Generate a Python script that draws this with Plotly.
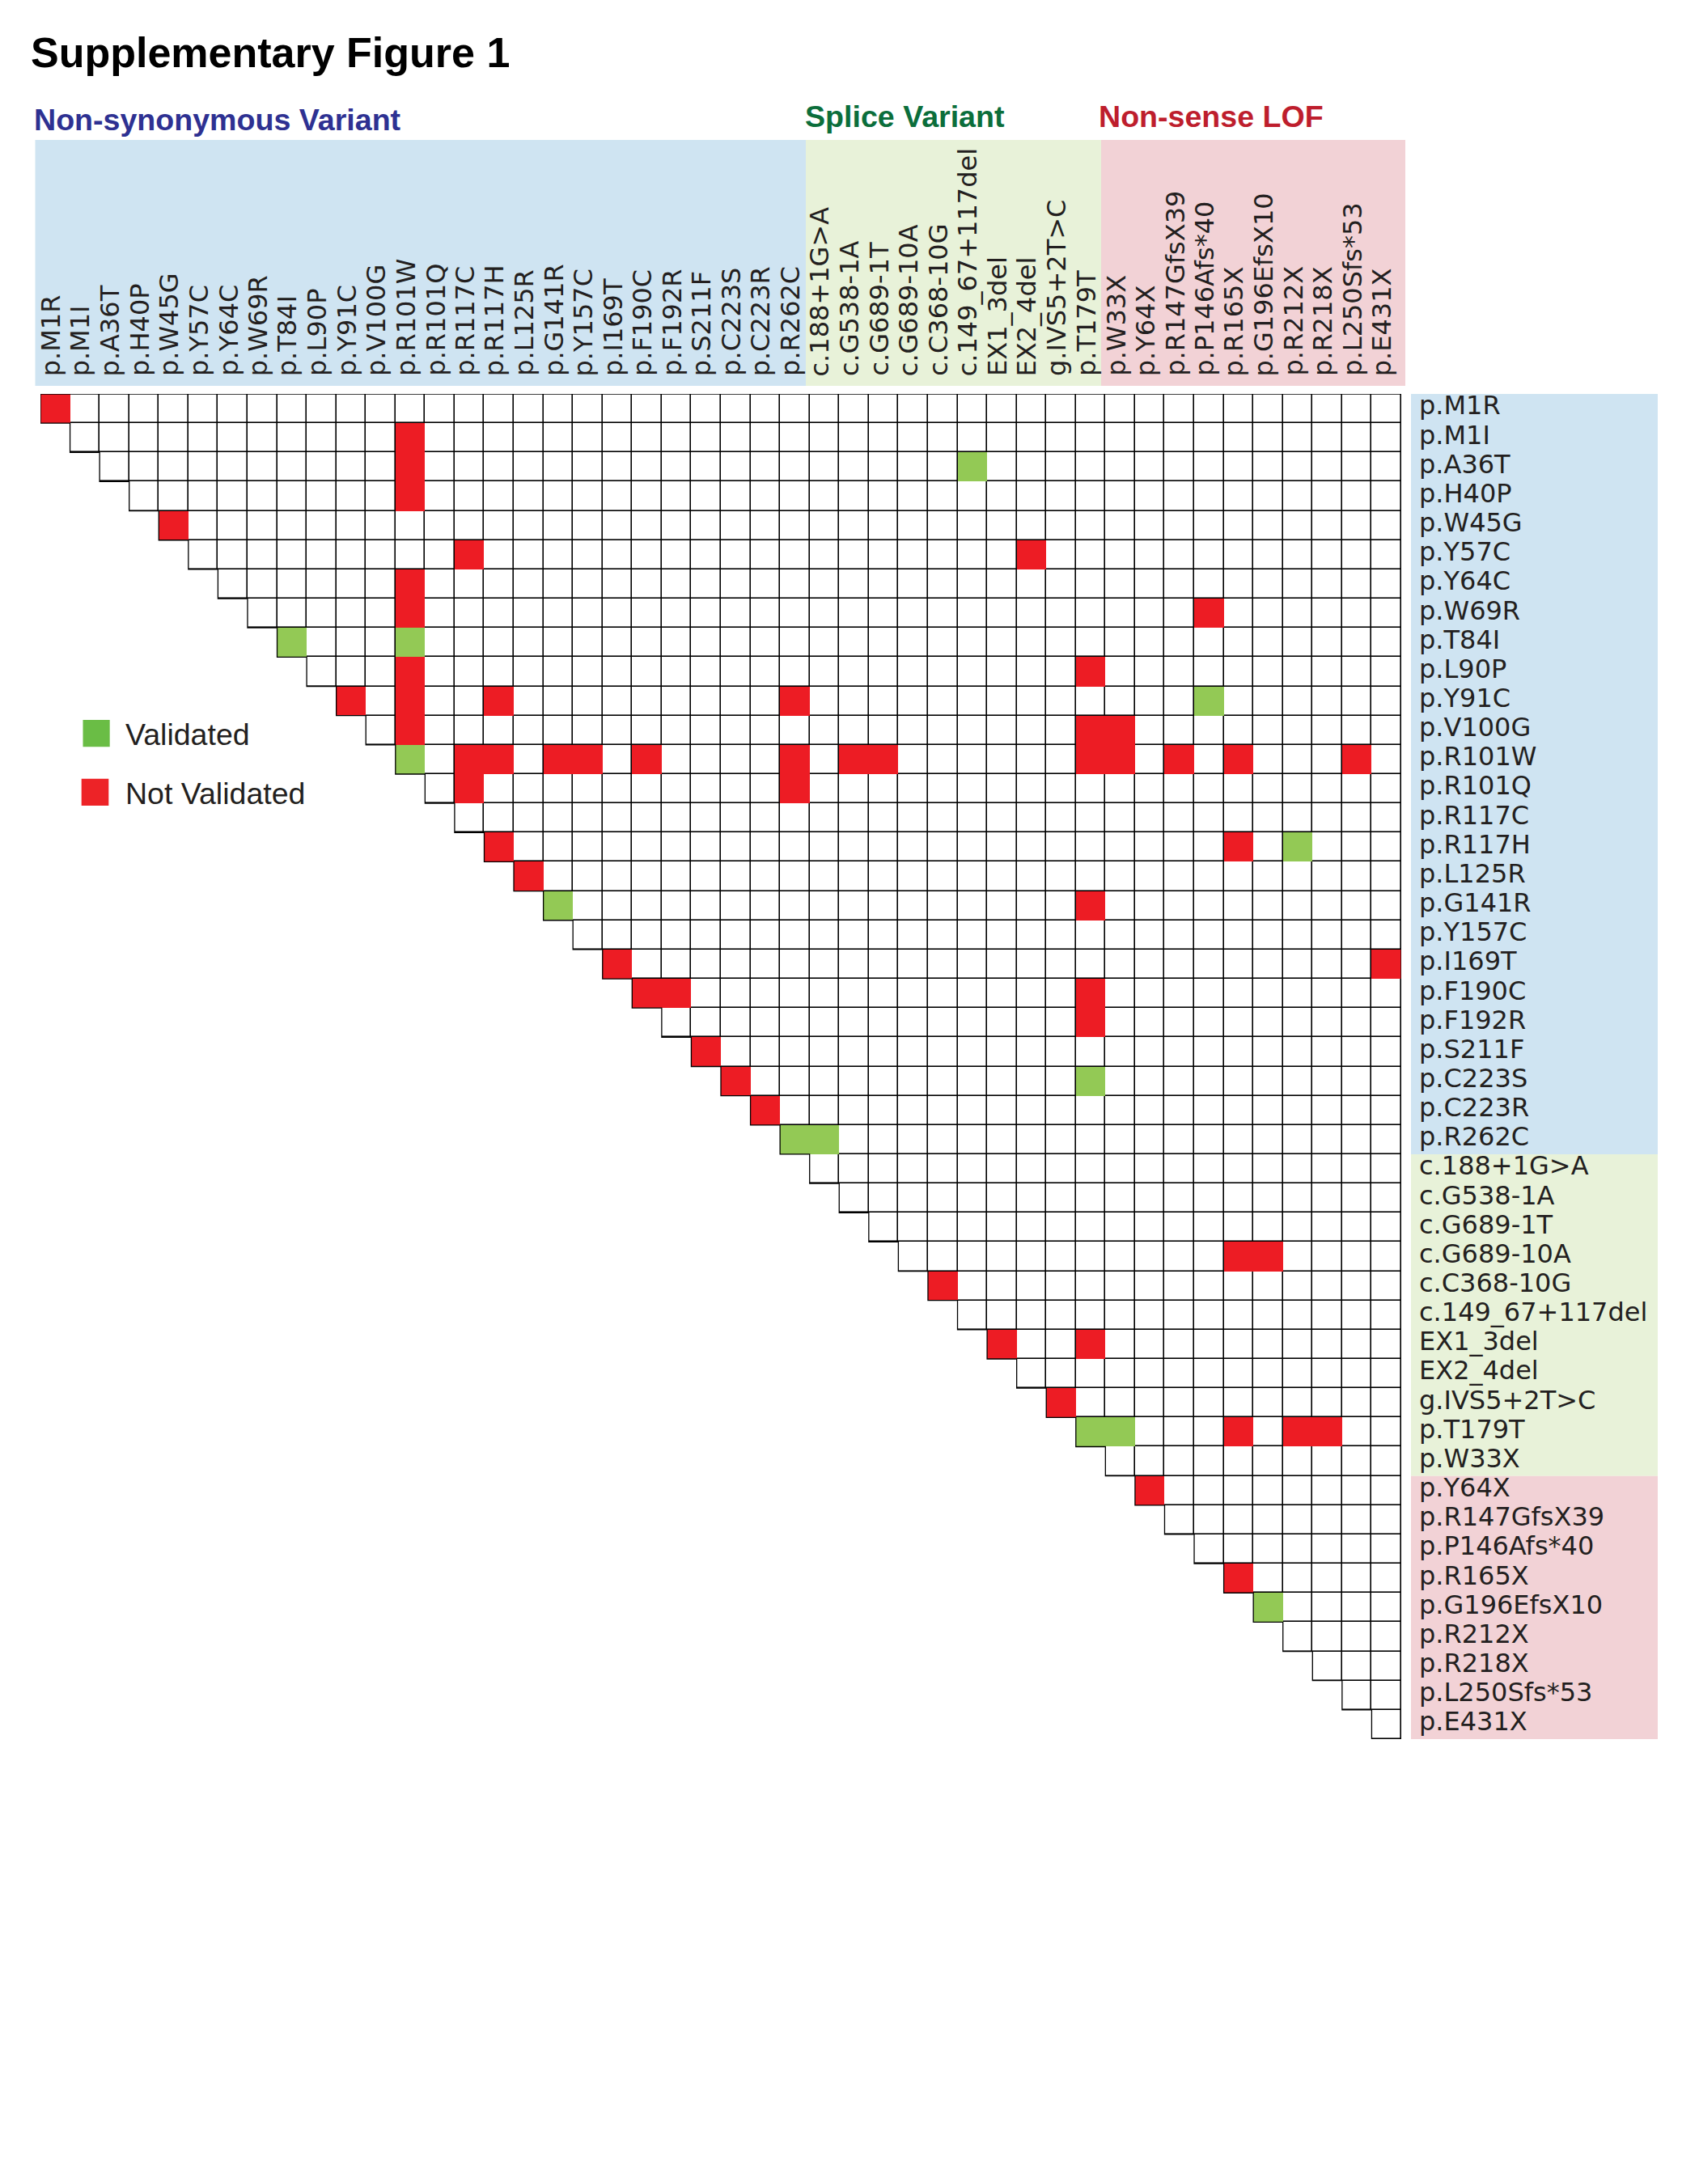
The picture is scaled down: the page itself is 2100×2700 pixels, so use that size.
import plotly.graph_objects as go

W, H = 2100, 2700

# ---------------- data ----------------
nonsyn_variants = ["p.M1R", "p.M1I", "p.A36T", "p.H40P", "p.W45G", "p.Y57C", "p.Y64C",
                   "p.W69R", "p.T84I", "p.L90P", "p.Y91C", "p.V100G", "p.R101W", "p.R101Q",
                   "p.R117C", "p.R117H", "p.L125R", "p.G141R", "p.Y157C", "p.I169T",
                   "p.F190C", "p.F192R", "p.S211F", "p.C223S", "p.C223R", "p.R262C"]
splice_variants = ["c.188+1G>A", "c.G538-1A", "c.G689-1T", "c.G689-10A", "c.C368-10G",
                   "c.149_67+117del", "EX1_3del", "EX2_4del", "g.IVS5+2T>C", "p.T179T"]
nonsense_variants = ["p.W33X", "p.Y64X", "p.R147GfsX39", "p.P146Afs*40", "p.R165X",
                     "p.G196EfsX10", "p.R212X", "p.R218X", "p.L250Sfs*53", "p.E431X"]
labels = nonsyn_variants + splice_variants + nonsense_variants

group_names = ["Non-synonymous Variant", "Splice Variant", "Non-sense LOF"]

# (row variant, column variant)
validated_pairs = [
    ("p.A36T", "c.149_67+117del"), ("p.T84I", "p.T84I"), ("p.T84I", "p.R101W"),
    ("p.Y91C", "p.P146Afs*40"), ("p.R101W", "p.R101W"), ("p.R117H", "p.R212X"),
    ("p.G141R", "p.G141R"), ("p.C223S", "p.T179T"), ("p.R262C", "p.R262C"),
    ("p.R262C", "c.188+1G>A"), ("p.T179T", "p.T179T"), ("p.T179T", "p.W33X"),
    ("p.G196EfsX10", "p.G196EfsX10"),
]
not_validated_pairs = [
    ("p.M1R", "p.M1R"), ("p.M1I", "p.R101W"), ("p.A36T", "p.R101W"), ("p.H40P", "p.R101W"),
    ("p.W45G", "p.W45G"), ("p.Y57C", "p.R117C"), ("p.Y57C", "EX2_4del"),
    ("p.Y64C", "p.R101W"), ("p.W69R", "p.R101W"), ("p.W69R", "p.P146Afs*40"),
    ("p.L90P", "p.R101W"), ("p.L90P", "p.T179T"),
    ("p.Y91C", "p.Y91C"), ("p.Y91C", "p.R101W"), ("p.Y91C", "p.R117H"), ("p.Y91C", "p.R262C"),
    ("p.V100G", "p.R101W"), ("p.V100G", "p.T179T"), ("p.V100G", "p.W33X"),
    ("p.R101W", "p.R117C"), ("p.R101W", "p.R117H"), ("p.R101W", "p.G141R"),
    ("p.R101W", "p.Y157C"), ("p.R101W", "p.F190C"), ("p.R101W", "p.R262C"),
    ("p.R101W", "c.G538-1A"), ("p.R101W", "c.G689-1T"), ("p.R101W", "p.T179T"),
    ("p.R101W", "p.W33X"), ("p.R101W", "p.R147GfsX39"), ("p.R101W", "p.R165X"),
    ("p.R101W", "p.L250Sfs*53"),
    ("p.R101Q", "p.R117C"), ("p.R101Q", "p.R262C"),
    ("p.R117H", "p.R117H"), ("p.R117H", "p.R165X"),
    ("p.L125R", "p.L125R"), ("p.G141R", "p.T179T"),
    ("p.I169T", "p.I169T"), ("p.I169T", "p.E431X"),
    ("p.F190C", "p.F190C"), ("p.F190C", "p.F192R"), ("p.F190C", "p.T179T"),
    ("p.F192R", "p.T179T"), ("p.S211F", "p.S211F"), ("p.C223S", "p.C223S"),
    ("p.C223R", "p.C223R"),
    ("c.G689-10A", "p.R165X"), ("c.G689-10A", "p.G196EfsX10"),
    ("c.C368-10G", "c.C368-10G"), ("EX1_3del", "EX1_3del"), ("EX1_3del", "p.T179T"),
    ("g.IVS5+2T>C", "g.IVS5+2T>C"),
    ("p.T179T", "p.R165X"), ("p.T179T", "p.R212X"), ("p.T179T", "p.R218X"),
    ("p.Y64X", "p.Y64X"), ("p.R165X", "p.R165X"),
]

legend_names = ["Validated", "Not Validated"]
# sizes of the coloured bands behind the row labels, as drawn in the figure
row_band_sizes = [26, 11, 9]

# ---------------- styles ----------------
BLUE_BG, GREEN_BG, PINK_BG = "#CFE4F2", "#E8F2D9", "#F2D2D6"
CELL_GREEN, CELL_RED = "#93C955", "#ED1C24"
LEG_GREEN, LEG_RED = "#6ABD45", "#ED2327"
TXT = "#231F20"
GROUP_COLORS = ["#2E3192", "#0B6E3B", "#BE1E2D"]
LABEL_FONT = dict(family="DejaVu Sans", size=32, color=TXT)


def px(x):
    return x / W


def py(y):
    return 1 - y / H


n = len(labels)
idx = {lab: i for i, lab in enumerate(labels)}
cols = list(range(n))
rows = list(range(n))

tri = [[1 if j >= i else None for j in cols] for i in rows]
status = [[None] * n for _ in rows]
for r, c in validated_pairs:
    status[idx[r]][idx[c]] = 1
for r, c in not_validated_pairs:
    status[idx[r]][idx[c]] = 2

fig = go.Figure()
# black base (becomes the grid lines)
fig.add_trace(go.Heatmap(z=tri, x=cols, y=rows, zmin=0, zmax=1,
                         colorscale=[[0, "#000000"], [1, "#000000"]],
                         showscale=False, hoverinfo="skip"))
# white cells with gaps
fig.add_trace(go.Heatmap(z=tri, x=cols, y=rows, zmin=0, zmax=1, xgap=1.6, ygap=1.6,
                         colorscale=[[0, "#FFFFFF"], [1, "#FFFFFF"]],
                         showscale=False, hoverinfo="skip"))
# validation status
fig.add_trace(go.Heatmap(z=status, x=cols, y=rows, zmin=1, zmax=2,
                         colorscale=[[0, CELL_GREEN], [0.5, CELL_GREEN],
                                     [0.5, CELL_RED], [1, CELL_RED]],
                         showscale=False, hoverinfo="skip"))

# staircase outline of the triangle
ox, oy = [-0.5], [-0.5]
for i in rows:
    ox += [i - 0.5, i + 0.5]
    oy += [i + 0.5, i + 0.5]
ox += [n - 0.5, -0.5]
oy += [-0.5, -0.5]
fig.add_trace(go.Scatter(x=ox, y=oy, mode="lines", line=dict(color="#000000", width=1.3),
                         hoverinfo="skip", showlegend=False))

shapes = []
# header bands (column groups)
head_edges = [43.5, 996, 1361, 1737]
for k, colr in enumerate([BLUE_BG, GREEN_BG, PINK_BG]):
    shapes.append(dict(type="rect", xref="paper", yref="paper",
                       x0=px(head_edges[k]), x1=px(head_edges[k + 1]),
                       y0=py(477), y1=py(173), fillcolor=colr, line=dict(width=0),
                       layer="below"))
# row label bands
start = 0
for k, (size, colr) in enumerate(zip(row_band_sizes, [BLUE_BG, GREEN_BG, PINK_BG])):
    y0 = start - 0.5 - (0.2 if k == 0 else 0)
    y1 = start + size - 0.5 + (0.2 if k == len(row_band_sizes) - 1 else 0)
    shapes.append(dict(type="rect", xref="paper", yref="y",
                       x0=px(1744), x1=px(2049), y0=y0, y1=y1,
                       fillcolor=colr, line=dict(width=0), layer="below"))
    start += size

# legend squares
shapes.append(dict(type="rect", xref="paper", yref="paper", x0=px(102.5), x1=px(135.7),
                   y0=py(923.3), y1=py(890), fillcolor=LEG_GREEN, line=dict(width=0)))
shapes.append(dict(type="rect", xref="paper", yref="paper", x0=px(100.7), x1=px(134.3),
                   y0=py(996), y1=py(962.7), fillcolor=LEG_RED, line=dict(width=0)))

ann = []
ann.append(dict(x=px(36), y=py(65), xref="paper", yref="paper", xanchor="left",
                yanchor="middle", showarrow=False, text="Supplementary Figure 1",
                font=dict(family="Liberation Sans", size=52, color="#000000", weight=700)))
group_pos = [(40, 148), (993, 143.5), (1356, 144)]
for name, (gx, gy), colr in zip(group_names, group_pos, GROUP_COLORS):
    ann.append(dict(x=px(gx), y=py(gy), xref="paper", yref="paper", xanchor="left",
                    yanchor="middle", showarrow=False, text=name,
                    font=dict(family="Liberation Sans", size=37.6, color=colr, weight=700)))

col_shift = -0.15
for j, lab in enumerate(labels):
    ann.append(dict(x=j + col_shift, xref="x", y=py(467), yref="paper", text=lab,
                    textangle=-90, xanchor="center", yanchor="bottom", showarrow=False,
                    font=LABEL_FONT))
row_shift = -0.1
for i, lab in enumerate(labels):
    ann.append(dict(x=px(1752), xref="paper", y=i + row_shift, yref="y", text=lab,
                    xanchor="left", yanchor="middle", showarrow=False, font=LABEL_FONT))

for name, ly in zip(legend_names, [908, 981]):
    ann.append(dict(x=px(153), y=py(ly), xref="paper", yref="paper", xanchor="left",
                    yanchor="middle", showarrow=False, text=name,
                    font=dict(family="Liberation Sans", size=37.5, color=TXT)))

fig.update_layout(
    width=W, height=H,
    margin=dict(l=0, r=0, t=0, b=0),
    paper_bgcolor="#FFFFFF", plot_bgcolor="rgba(0,0,0,0)",
    showlegend=False,
    xaxis=dict(domain=[px(50), px(1732)], range=[-0.5, n - 0.5], visible=False,
               fixedrange=True),
    yaxis=dict(domain=[py(2150), py(487)], range=[n - 0.5, -0.5], visible=False,
               fixedrange=True),
    shapes=shapes,
    annotations=ann,
)

fig.write_html("out.html", config={"displayModeBar": False},
               post_script="document.body.style.margin='0';")
